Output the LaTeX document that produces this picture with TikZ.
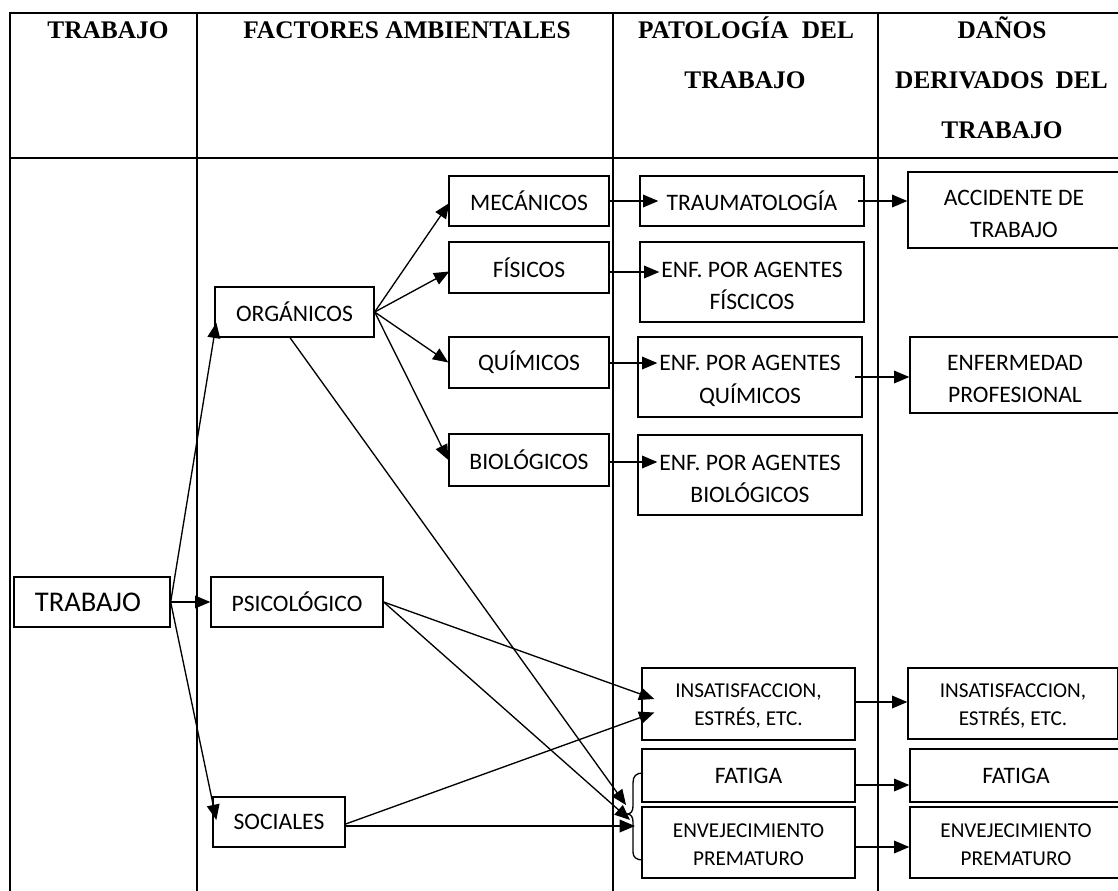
\documentclass[tikz,border=0pt]{standalone}
\usepackage{fontspec}
\setmainfont{Liberation Serif}
\newfontfamily\calfont{Carlito}
\usetikzlibrary{arrows.meta,calc}
\newcommand\bstrut{\rule{0pt}{17.5pt}}
\newcommand\sstrut{\rule{0pt}{13.3pt}}
\begin{document}
\begin{tikzpicture}[x=0.75pt,y=-0.75pt,
  tab/.style={line width=1.5pt},
  hdr/.style={font=\fontsize{19}{22}\selectfont\bfseries, inner sep=0pt, anchor=base},
  box/.style={draw, line width=1pt, inner sep=0pt, align=center,
    font=\calfont\fontsize{17.7}{24.4}\selectfont},
  sbox/.style={box, font=\calfont\fontsize{15.9}{21}\selectfont},
  arr/.style={line width=1pt, -{Triangle[length=11.5pt,width=9.5pt]}},
  plain/.style={line width=1pt}]
\useasboundingbox (0,0) rectangle (1118,890);
\clip (0,0) rectangle (1118,890);
% table
\draw[tab] (10,892) -- (10,13) -- (1130,13);
\draw[tab] (10,158) -- (1130,158);
\draw[tab] (197,13) -- (197,892);
\draw[tab] (613,13) -- (613,892);
\draw[tab] (878,13) -- (878,892);
% headers
\node[hdr] (h1) at (108,38.5) {TRABAJO};
\node[hdr] (h2) at (407,38.5) {FACTORES AMBIENTALES};
\node[hdr] (h3a) at (746,38.5) {\makebox[162pt][s]{PATOLOGÍA DEL}};
\node[hdr] (h3b) at (745,88.6) {TRABAJO};
\node[hdr] (h4a) at (1002,38.5) {DAÑOS};
\node[hdr] (h4b) at (1001.5,88.6) {\makebox[159.4pt][s]{DERIVADOS DEL}};
\node[hdr] (h4c) at (1002,138.6) {TRABAJO};
% boxes
\node[box, text width=117pt, align=left, minimum height=37.5pt, font=\calfont\fontsize{21.4}{24}\selectfont] (trab) at (92,602) {\hspace*{15.75pt}TRABAJO};
\node[box, minimum width=119.25pt, minimum height=37.5pt] (org) at (294.5,312) {ORGÁNICOS};
\node[box, minimum width=129pt, minimum height=37.5pt] (psi) at (297,602) {PSICOLÓGICO};
\node[box, minimum width=99pt, minimum height=37.5pt] (soc) at (279,822) {SOCIALES};
\node[box, minimum width=120pt, minimum height=37.5pt] (mec) at (529,201) {MECÁNICOS};
\node[box, minimum width=120pt, minimum height=38.25pt] (fis) at (529,267.5) {FÍSICOS};
\node[box, minimum width=120pt, minimum height=38.25pt] (qui) at (529,362.5) {QUÍMICOS};
\node[box, minimum width=120pt, minimum height=39pt] (bio) at (529,460) {BIOLÓGICOS};
\node[box, minimum width=168pt, minimum height=37.5pt] (trau) at (752,201) {TRAUMATOLOGÍA};
\node[box, minimum width=168pt, minimum height=60pt] (efis) at (752,282) {\bstrut ENF. POR AGENTES\\FÍSCICOS};
\node[box, minimum width=168pt, minimum height=60pt] (equi) at (750,377) {\bstrut ENF. POR AGENTES\\QUÍMICOS};
\node[box, minimum width=168pt, minimum height=60pt] (ebio) at (750,475) {\bstrut ENF. POR AGENTES\\BIOLÓGICOS};
\node[sbox, minimum width=159.75pt, minimum height=54pt] (insa) at (748.5,704) {\sstrut INSATISFACCION,\\ESTRÉS, ETC.};
\node[box, minimum width=159.75pt, minimum height=39.75pt] (fat) at (748.5,775.5) {FATIGA};
\node[sbox, minimum width=159.75pt, minimum height=53.25pt] (env) at (748.5,842.5) {\sstrut ENVEJECIMIENTO\\PREMATURO};
\node[box, minimum width=159pt, minimum height=57pt] (acc) at (1014,210) {\bstrut ACCIDENTE DE\\TRABAJO};
\node[box, minimum width=157.5pt, minimum height=57pt] (enf) at (1015,375) {\bstrut ENFERMEDAD\\PROFESIONAL};
\node[sbox, minimum width=157.5pt, minimum height=53.25pt] (insa2) at (1013,703.5) {\sstrut INSATISFACCION,\\ESTRÉS, ETC.};
\node[box, minimum width=159pt, minimum height=39.75pt] (fat2) at (1016,775.5) {FATIGA};
\node[sbox, minimum width=159pt, minimum height=53.25pt] (env2) at (1016,842.5) {\sstrut ENVEJECIMIENTO\\PREMATURO};
% brace points
\coordinate (t1) at (626,805);
\coordinate (t2) at (630,820);
\coordinate (t3) at (635,826);
% arrows from TRABAJO
\draw[arr] (trab.east) -- ($(org.south west)+(2,-15)$);
\draw[arr] (trab.east) -- (psi.west);
\draw[arr] (trab.east) -- ($(soc.west)+(4,-2)$);
% arrows from ORGANICOS
\draw[arr] (org.east) -- ($(mec.west)+(1,2)$);
\draw[arr] (org.east) -- ($(fis.west)+(1,4)$);
\draw[arr] (org.east) -- (qui.west);
\draw[arr] (org.east) -- (bio.west);
\draw[arr] ($(org.south)+(-4.5,0)$) -- (t1);
% arrows from PSICOLOGICO
\draw[arr] (psi.east) -- ($(insa.west)+(13,-5)$);
\draw[arr] (psi.east) -- (t2);
% arrows from SOCIALES
\draw[arr] ($(soc.east)+(0,2)$) -- ($(insa.west)+(13,8.5)$);
\draw[arr] ($(soc.east)+(0,4)$) -- (t3);
% to pathology
\draw[arr] (mec.east) -- ($(trau.west)+(19,0)$);
\draw[arr] ($(fis.east)+(0,4.5)$) -- ($(efis.west)+(20,-10)$);
\draw[arr] ($(qui.east)+(0,0.5)$) -- ($(equi.west)+(20,-14)$);
\draw[arr] ($(bio.east)+(0,2)$) -- ($(ebio.west)+(20,-13)$);
% to damages
\draw[arr] ($(trau.east)+(-7,0)$) -- ($(acc.west)+(0,-9)$);
\draw[arr] ($(equi.east)+(-8,0)$) -- ($(enf.west)+(0,2)$);
\draw[arr] ($(insa.east)+(0,-2)$) -- ($(insa2.west)+(0,-1.5)$);
\draw[arr] ($(fat.east)+(0,9.5)$) -- ($(fat2.west)+(0,9.5)$);
\draw[arr] ($(env.east)+(0,4.5)$) -- ($(env2.west)+(0,4.5)$);
% brace
\draw[plain] (643,773) .. controls (636,773) and (633,776) .. (633,783) -- (633,806)
  .. controls (633,811) and (631,814) .. (627,814)
  .. controls (631,814) and (633,817) .. (633,822) -- (633,852)
  .. controls (633,857) and (636,860) .. (643,860);
\end{tikzpicture}
\end{document}
